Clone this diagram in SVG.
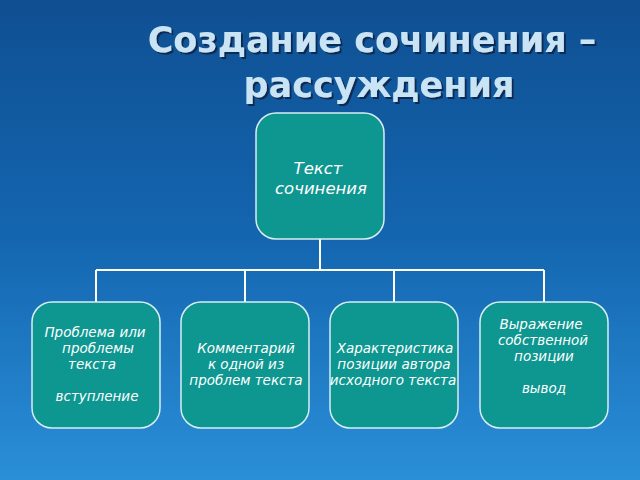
<svg xmlns="http://www.w3.org/2000/svg" width="640" height="480" viewBox="0 0 640 480">
<defs>
<linearGradient id="bg" x1="0" y1="0" x2="0" y2="1"><stop offset="0" stop-color="#0f4f92"/><stop offset="0.5" stop-color="#1466b0"/><stop offset="1" stop-color="#2a8fd8"/></linearGradient>
<filter id="ds" x="-10%" y="-30%" width="120%" height="160%"><feDropShadow dx="2" dy="2" stdDeviation="0.5" flood-color="#0a2a55"/></filter>
<style>
.box{fill:#0e9690;stroke:#d8eef0;stroke-width:1.5}
.t{font-family:"DejaVu Sans",sans-serif;font-style:italic;font-size:13.5px;fill:#fff;text-anchor:middle}
.title{font-family:"DejaVu Sans",sans-serif;font-weight:bold;font-size:35px;fill:#c9e4f4;text-anchor:middle;filter:url(#ds)}
.c{stroke:#fff;stroke-width:2;fill:none}
</style>
</defs>
<rect width="640" height="480" fill="url(#bg)"/>
<g id="title">
<text class="title" x="372" y="52">Создание сочинения –</text>
<text class="title" x="379" y="97">рассуждения</text>
</g>
<g id="connectors">
<path class="c" d="M320 239V270M96 270H544M96 270V302M245 270V302M394 270V302M544 270V302"/>
</g>
<g id="n0"><rect class="box" x="256" y="113" width="128" height="126" rx="20"/>
<text class="t" x="318" y="174" style="font-size:16.5px">Текст</text><text class="t" x="321" y="194" style="font-size:16.5px">сочинения</text></g>
<g id="n1"><rect class="box" x="32" y="302" width="128" height="126" rx="20"/>
<text class="t" x="95" y="337">Проблема или</text><text class="t" x="98" y="353">проблемы</text><text class="t" x="92" y="369">текста</text><text class="t" x="97" y="401">вступление</text></g>
<g id="n2"><rect class="box" x="181" y="302" width="128" height="126" rx="20"/>
<text class="t" x="246" y="353">Комментарий</text><text class="t" x="246" y="369">к одной из</text><text class="t" x="246" y="385">проблем текста</text></g>
<g id="n3"><rect class="box" x="330" y="302" width="128" height="126" rx="20"/>
<text class="t" x="395" y="353">Характеристика</text><text class="t" x="394" y="369">позиции автора</text><text class="t" x="393" y="385">исходного текста</text></g>
<g id="n4"><rect class="box" x="480" y="302" width="128" height="126" rx="20"/>
<text class="t" x="541" y="329">Выражение</text><text class="t" x="543" y="345">собственной</text><text class="t" x="544" y="361">позиции</text><text class="t" x="544" y="393">вывод</text></g>
</svg>
